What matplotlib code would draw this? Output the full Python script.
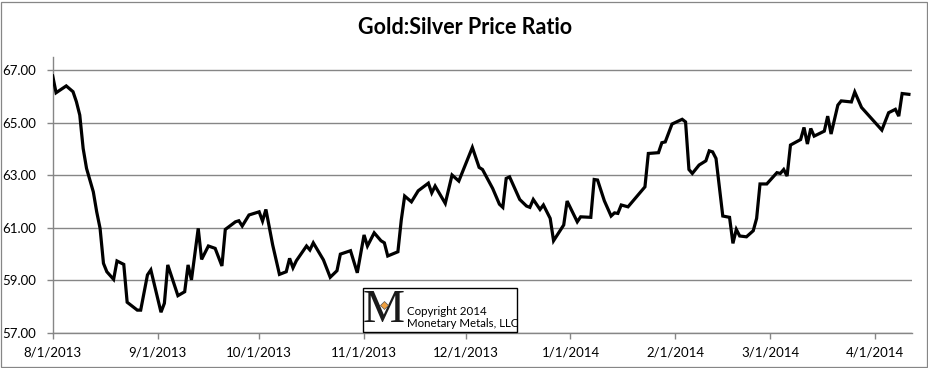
import matplotlib
matplotlib.use("Agg")
import matplotlib.pyplot as plt
import matplotlib.dates as mdates
from matplotlib.patches import Rectangle
from matplotlib.lines import Line2D
from matplotlib.ticker import FuncFormatter, FixedLocator
import numpy as np

# ---- data ----
dates = [
    "2013-08-01", "2013-08-02", "2013-08-05", "2013-08-07", "2013-08-08", "2013-08-09",
    "2013-08-10", "2013-08-11", "2013-08-13", "2013-08-14", "2013-08-15", "2013-08-16",
    "2013-08-17", "2013-08-19", "2013-08-20", "2013-08-22", "2013-08-23", "2013-08-26",
    "2013-08-27", "2013-08-29", "2013-08-30", "2013-09-02", "2013-09-03", "2013-09-04",
    "2013-09-07", "2013-09-09", "2013-09-10", "2013-09-11", "2013-09-13", "2013-09-14",
    "2013-09-16", "2013-09-18", "2013-09-20", "2013-09-21", "2013-09-24", "2013-09-25",
    "2013-09-26", "2013-09-28", "2013-10-01", "2013-10-02", "2013-10-03", "2013-10-05",
    "2013-10-07", "2013-10-09", "2013-10-10", "2013-10-11", "2013-10-12", "2013-10-15",
    "2013-10-16", "2013-10-17", "2013-10-20", "2013-10-22", "2013-10-24", "2013-10-25",
    "2013-10-28", "2013-10-30", "2013-11-01", "2013-11-02", "2013-11-04", "2013-11-06",
    "2013-11-07", "2013-11-08", "2013-11-11", "2013-11-12", "2013-11-13", "2013-11-15",
    "2013-11-17", "2013-11-20", "2013-11-21", "2013-11-22", "2013-11-25", "2013-11-27",
    "2013-11-29", "2013-12-03", "2013-12-05", "2013-12-06", "2013-12-09", "2013-12-11",
    "2013-12-12", "2013-12-13", "2013-12-14", "2013-12-17", "2013-12-19", "2013-12-20",
    "2013-12-21", "2013-12-23", "2013-12-24", "2013-12-26", "2013-12-27", "2013-12-30",
    "2013-12-31", "2014-01-03", "2014-01-04", "2014-01-07", "2014-01-08", "2014-01-09",
    "2014-01-11", "2014-01-13", "2014-01-14", "2014-01-15", "2014-01-16", "2014-01-18",
    "2014-01-23", "2014-01-24", "2014-01-27", "2014-01-28", "2014-01-29", "2014-01-31",
    "2014-02-02", "2014-02-03", "2014-02-04", "2014-02-05", "2014-02-06", "2014-02-08",
    "2014-02-10", "2014-02-11", "2014-02-12", "2014-02-13", "2014-02-15", "2014-02-17",
    "2014-02-18", "2014-02-19", "2014-02-20", "2014-02-22", "2014-02-24", "2014-02-25",
    "2014-02-26", "2014-02-28", "2014-03-03", "2014-03-04", "2014-03-05", "2014-03-06",
    "2014-03-07", "2014-03-10", "2014-03-11", "2014-03-12", "2014-03-13", "2014-03-14",
    "2014-03-17", "2014-03-18", "2014-03-19", "2014-03-21", "2014-03-22", "2014-03-25",
    "2014-03-26", "2014-03-28", "2014-04-03", "2014-04-05", "2014-04-07", "2014-04-08",
    "2014-04-09", "2014-04-11",
]
ratio = [
    66.78, 66.14, 66.40, 66.18, 65.80, 65.29,
    64.02, 63.26, 62.37, 61.61, 60.98, 59.65,
    59.33, 59.04, 59.74, 59.61, 58.17, 57.87,
    57.87, 59.21, 59.40, 57.79, 58.13, 59.59,
    58.42, 58.57, 59.59, 59.02, 60.98, 59.80,
    60.31, 60.22, 59.55, 60.94, 61.23, 61.27,
    61.07, 61.49, 61.61, 61.26, 61.70, 60.35,
    59.23, 59.33, 59.84, 59.48, 59.75, 60.31,
    60.16, 60.43, 59.78, 59.12, 59.37, 60.00,
    60.13, 59.29, 60.73, 60.31, 60.81, 60.51,
    60.43, 59.93, 60.09, 61.30, 62.21, 61.99,
    62.41, 62.70, 62.33, 62.59, 61.93, 63.01,
    62.78, 64.06, 63.30, 63.22, 62.50, 61.90,
    61.78, 62.88, 62.94, 62.08, 61.83, 61.78,
    62.08, 61.70, 61.87, 61.36, 60.51, 61.11,
    62.02, 61.23, 61.42, 61.40, 62.84, 62.82,
    62.03, 61.45, 61.57, 61.55, 61.87, 61.80,
    62.56, 63.83, 63.86, 64.24, 64.27, 64.95,
    65.07, 65.13, 65.03, 63.22, 63.07, 63.39,
    63.55, 63.93, 63.89, 63.64, 61.45, 61.40,
    60.41, 60.94, 60.69, 60.66, 60.89, 61.36,
    62.67, 62.67, 63.10, 63.07, 63.22, 62.97,
    64.15, 64.36, 64.82, 64.19, 64.78, 64.49,
    64.68, 65.25, 64.57, 65.67, 65.83, 65.79,
    66.17, 65.58, 64.72, 65.38, 65.51, 65.25,
    66.11, 66.08,
]
x_ticks = ["2013-08-01", "2013-09-01", "2013-10-01", "2013-11-01", "2013-12-01",
           "2014-01-01", "2014-02-01", "2014-03-01", "2014-04-01"]
y_ticks = [57, 59, 61, 63, 65, 67]
title = "Gold:Silver Price Ratio"
watermark = "Copyright 2014\nMonetary Metals, LLC"

# ---- figure ----
FONT = ["Lato", "DejaVu Sans"]
plt.rcParams["font.family"] = FONT
W, H = 929, 368
fig = plt.figure(figsize=(W / 100, H / 100), dpi=100)
fig.patch.set_facecolor("white")

# outer chart border
fig.add_artist(Rectangle((1.5 / W, 1.5 / H), (W - 3) / W, (H - 3) / H,
                         transform=fig.transFigure, fill=False,
                         edgecolor="#868686", linewidth=0.9))

ax = fig.add_axes([52.7 / W, 1 - 333 / H, (912.3 - 52.7) / W, (333 - 57) / H])

xd = np.array(dates, dtype="datetime64[D]")
ax.plot(mdates.date2num(xd), ratio, color="black", linewidth=2.3,
        solid_joinstyle="miter", zorder=3)

ax.set_ylim(57, 67.5)
ax.set_xlim(mdates.date2num(np.datetime64("2013-08-01")),
            mdates.date2num(np.datetime64("2014-04-12")))

ax.yaxis.set_major_locator(FixedLocator(y_ticks))
ax.yaxis.set_major_formatter(FuncFormatter(lambda v, p: f"{v:.2f}"))
tick_nums = mdates.date2num(np.array(x_ticks, dtype="datetime64[D]"))
ax.xaxis.set_major_locator(FixedLocator(tick_nums))

def fmt_date(v, p):
    d = mdates.num2date(v)
    return f"{d.month}/{d.day}/{d.year}"

ax.xaxis.set_major_formatter(FuncFormatter(fmt_date))

ax.grid(axis="y", color="#868686", linewidth=1.0, zorder=0)
for s in ["top", "right"]:
    ax.spines[s].set_visible(False)
for s in ["left", "bottom"]:
    ax.spines[s].set_color("#868686")
    ax.spines[s].set_linewidth(1.0)
ax.tick_params(axis="both", colors="#868686", labelcolor="black",
               labelsize=9.5, length=4, width=1.0, direction="out")
ax.tick_params(axis="y", pad=8)
ax.tick_params(axis="x", pad=6)
ax.set_axisbelow(True)

fig.text(465 / W, 1 - 28 / H, title, ha="center", va="center",
         fontsize=15.5, fontweight="bold", color="black")

# watermark box
bx0, bx1, by0, by1 = 362.7, 516.7, 288.3, 332.3
fig.add_artist(Rectangle((bx0 / W, 1 - by1 / H), (bx1 - bx0) / W, (by1 - by0) / H,
                         transform=fig.transFigure, facecolor="white",
                         edgecolor="black", linewidth=1.0, zorder=5))
fig.text(384 / W, 1 - 311 / H, "M", ha="center", va="center", fontsize=34,
         family=["Liberation Serif", "DejaVu Serif"], color="#1a1a1a", zorder=6)
fig.add_artist(Line2D([384 / W], [1 - 305 / H], transform=fig.transFigure,
                      marker="D", markersize=4, markerfacecolor="#f0a040",
                      markeredgecolor="#555555", markeredgewidth=0.5,
                      linestyle="none", zorder=7))
fig.text(407 / W, 1 - 317.5 / H, watermark, ha="left", va="center", fontsize=8.3,
         color="black", linespacing=1.15, zorder=6)

fig.savefig("out.png", dpi=100, facecolor="white")
